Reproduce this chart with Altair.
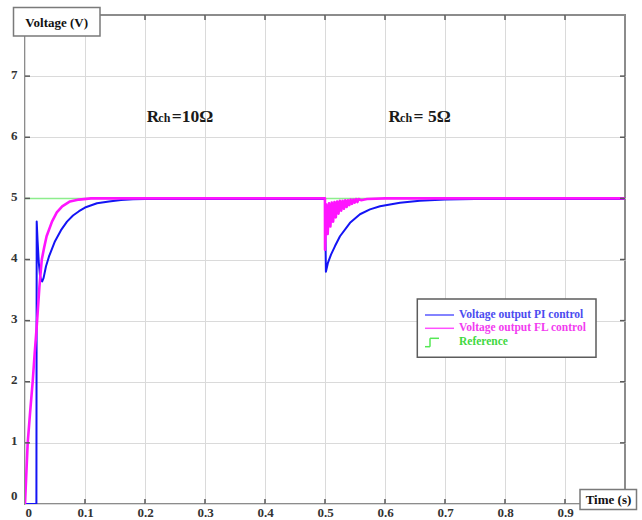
import altair as alt
import pandas as pd

# ---- measured responses: time (s) / voltage (V) ----
pi_t = [0.0, 0.0190, 0.0195, 0.0210, 0.0230, 0.0250, 0.0270, 0.0285, 0.0310,
        0.0350, 0.0400, 0.0500, 0.0600, 0.0700, 0.0800, 0.0900, 0.1000, 0.1200,
        0.1400, 0.1600, 0.1800, 0.2000, 0.2500, 0.3000, 0.4000, 0.4999, 0.5015,
        0.5050, 0.5100, 0.5167, 0.5250, 0.5417, 0.5583, 0.5750, 0.5917, 0.6250,
        0.6580, 0.7000, 0.7500, 0.8000, 1.0000]
pi_v = [0.0, 0.0, 4.62, 4.30, 3.95, 3.74, 3.66, 3.64, 3.70,
        3.89, 4.05, 4.30, 4.48, 4.62, 4.72, 4.79, 4.85, 4.92,
        4.95, 4.975, 4.985, 4.99, 4.99, 4.99, 4.99, 4.99, 3.80,
        3.95, 4.08, 4.22, 4.38, 4.60, 4.74, 4.82, 4.87, 4.93,
        4.96, 4.98, 4.99, 4.99, 4.99]

fl_t = [0.0, 0.0020, 0.0045, 0.0085, 0.0128, 0.0160, 0.0195, 0.0240, 0.0280,
        0.0320, 0.0360, 0.0450, 0.0530, 0.0620, 0.0750, 0.0900, 0.1100, 0.1500,
        0.3000, 0.4999, 0.5001, 0.5022, 0.5045, 0.5067, 0.5090, 0.5112, 0.5135,
        0.5157, 0.5180, 0.5202, 0.5225, 0.5247, 0.5270, 0.5292, 0.5315, 0.5337,
        0.5360, 0.5382, 0.5405, 0.5427, 0.5450, 0.5472, 0.5495, 0.5517, 0.5540,
        0.5560, 0.5600, 0.5700, 0.6000, 1.0000]
fl_v = [0.0, 0.45, 1.00, 1.50, 2.00, 2.45, 2.90, 3.55, 4.00,
        4.20, 4.38, 4.62, 4.77, 4.87, 4.95, 4.98, 5.00, 5.00,
        5.00, 5.00, 4.16, 4.90, 4.42, 4.92, 4.54, 4.93, 4.62,
        4.94, 4.69, 4.95, 4.75, 4.96, 4.80, 4.96, 4.83, 4.97,
        4.86, 4.97, 4.89, 4.98, 4.91, 4.98, 4.93, 4.99, 4.94,
        4.99, 4.97, 4.99, 5.00, 5.00]

ref_t = [0.0, 1.0]
ref_v = [5.0, 5.0]

# ---- axes ----
x_labels = [0, 0.1, 0.2, 0.3, 0.4, 0.5, 0.6, 0.7, 0.8, 0.9]
y_labels = [0, 1, 2, 3, 4, 5, 6, 7]
x_ticks = [0.1, 0.2, 0.3, 0.4, 0.5, 0.6, 0.7, 0.8, 0.9]
y_ticks = [1, 2, 3, 4, 5, 6, 7]

# ---- annotations and legend ----
ann_t = [0.203, 0.606]
ann_v = [6.25, 6.25]
ann_head = ["R", "R"]
ann_sub = ["ch", "ch"]
ann_tail = ["=10Ω", "= 5Ω"]

legend_names = ["Voltage output PI control", "Voltage output FL control", "Reference"]
legend_text_colors = ["#4b4bf0", "#f23cf0", "#3fd83f"]

W, H = 600, 489
FONT = "Liberation Serif"
GRID = "#dadada"
TICK = "#5a5a5a"

x_scale = alt.Scale(domain=[0, 1], nice=False, zero=False)
y_scale = alt.Scale(domain=[0, 8], nice=False)

x_axis = alt.Axis(values=x_labels, format="~g", title=None, grid=True,
                  gridColor=GRID, gridWidth=1, ticks=False, domain=False,
                  labelFont=FONT, labelFontWeight="bold", labelFontSize=13,
                  labelColor="#333333", labelPadding=2)
y_axis = alt.Axis(values=y_labels, format="d", title=None, grid=True,
                  gridColor=GRID, gridWidth=1, ticks=False, domain=False,
                  labelFont=FONT, labelFontWeight="bold", labelFontSize=13,
                  labelColor="#333333", labelPadding=8, labelFlush=True,
                  labelOffset=-2)


def X(field="t"):
    return alt.X(f"{field}:Q", scale=x_scale, axis=x_axis)


def Y(field="v"):
    return alt.Y(f"{field}:Q", scale=y_scale, axis=y_axis)


def curve(ts, vs, color, width):
    df = pd.DataFrame({"t": ts, "v": vs})
    return alt.Chart(df).mark_line(color=color, strokeWidth=width, clip=True,
                                   strokeJoin="round").encode(
        x=X(), y=Y(), order="t:Q")


ref_line = curve(ref_t, ref_v, "#8ded8d", 1.5)
pi_line = curve(pi_t, pi_v, "#1414f5", 2)
fl_line = curve(fl_t, fl_v, "#ff14ff", 2.6)

# inward tick marks on all four sides
xt_df = pd.DataFrame({"t": x_ticks})
yt_df = pd.DataFrame({"v": y_ticks})
tick_bottom = alt.Chart(xt_df).mark_rule(color=TICK, strokeWidth=1.5).encode(
    x=X(), y=alt.value(H), y2=alt.value(H - 5))
tick_top = alt.Chart(xt_df).mark_rule(color=TICK, strokeWidth=1.5).encode(
    x=X(), y=alt.value(0), y2=alt.value(5))
tick_left = alt.Chart(yt_df).mark_rule(color=TICK, strokeWidth=1.5).encode(
    y=Y(), x=alt.value(0), x2=alt.value(5))
tick_right = alt.Chart(yt_df).mark_rule(color=TICK, strokeWidth=1.5).encode(
    y=Y(), x=alt.value(W), x2=alt.value(W - 5))

# load annotations
ann_df = pd.DataFrame({"t": ann_t, "v": ann_v, "head": ann_head,
                       "sub": ann_sub, "tail": ann_tail})
ann_style = dict(font=FONT, fontWeight="bold", color="#1a1a1a",
                 align="left", baseline="alphabetic")
ann_head_l = alt.Chart(ann_df).mark_text(fontSize=17, **ann_style).encode(
    x=X(), y=Y(), text="head:N")
ann_sub_l = alt.Chart(ann_df).mark_text(fontSize=12, dx=11.5, **ann_style).encode(
    x=X(), y=Y(), text="sub:N")
ann_tail_l = alt.Chart(ann_df).mark_text(fontSize=17.5, dx=25, **ann_style).encode(
    x=X(), y=Y(), text="tail:N")

one = pd.DataFrame({"k": [0]})


def box(x0, x1, y0, y1, stroke):
    return alt.Chart(one).mark_rect(fill="white", stroke=stroke, strokeWidth=1.5).encode(
        x=alt.value(x0), x2=alt.value(x1), y=alt.value(y0), y2=alt.value(y1))


def label(text, x, y, size, color="#111111", align="center"):
    return alt.Chart(one).mark_text(text=text, font=FONT, fontWeight="bold",
                                    fontSize=size, color=color, align=align,
                                    baseline="middle").encode(
        x=alt.value(x), y=alt.value(y))


# axis title boxes
v_box = box(-11.5, 75, -7.5, 21, "#7a7a7a")
v_txt = label("Voltage (V)", 31.7, 7.5, 13)
t_box = box(555, 611.5, 474.5, 494.5, "#7a7a7a")
t_txt = label("Time (s)", 583.5, 485, 13)

# legend
lg_box = box(392.3, 571, 284, 342.3, "#5c5c5c")
lg_pi = alt.Chart(one).mark_rule(color="#5a5aff", strokeWidth=1.5).encode(
    x=alt.value(400), x2=alt.value(429), y=alt.value(300))
lg_fl = alt.Chart(one).mark_rule(color="#ff50ff", strokeWidth=1.5).encode(
    x=alt.value(400), x2=alt.value(429), y=alt.value(313.3))
lg_ref = [
    alt.Chart(one).mark_rule(color="#55e855", strokeWidth=1.5).encode(
        x=alt.value(400), x2=alt.value(405), y=alt.value(331.7)),
    alt.Chart(one).mark_rule(color="#55e855", strokeWidth=1.5).encode(
        x=alt.value(405), y=alt.value(331.7), y2=alt.value(323.3)),
    alt.Chart(one).mark_rule(color="#55e855", strokeWidth=1.5).encode(
        x=alt.value(405), x2=alt.value(414), y=alt.value(323.3)),
]
lg_rows = [300, 313.3, 326.7]
lg_txt = [label(n, 434, yy, 11.5, c, "left")
          for n, c, yy in zip(legend_names, legend_text_colors, lg_rows)]

chart = alt.layer(
    ref_line, pi_line, fl_line,
    tick_bottom, tick_top, tick_left, tick_right,
    ann_head_l, ann_sub_l, ann_tail_l,
    v_box, v_txt, t_box, t_txt,
    lg_box, lg_pi, lg_fl, *lg_ref, *lg_txt,
).properties(
    width=W, height=H,
    autosize=alt.AutoSizeParams(type="none"),
    padding={"left": 25, "top": 15, "right": 17, "bottom": 16},
    background="white",
).configure_view(
    stroke="#8c8c8c", strokeWidth=2,
)

chart.save("out.html", embed_options={"renderer": "svg", "actions": False})
